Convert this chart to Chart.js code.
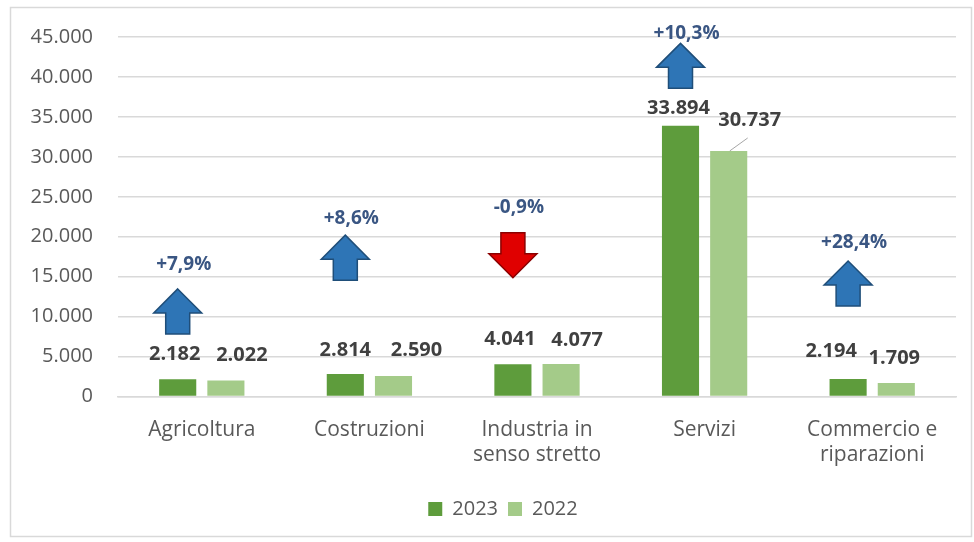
<!DOCTYPE html>
<html>
<head>
<meta charset="utf-8">
<script src="https://cdn.jsdelivr.net/npm/chart.js@4/dist/chart.umd.min.js"></script>
<style>
  html, body { margin: 0; padding: 0; background: #fff; }
  canvas { display: block; }
</style>
</head>
<body>
<canvas id="chart" width="974" height="542"></canvas>
<script>
// Occupati per settore, 2023 vs 2022
const categories = [['Agricoltura'], ['Costruzioni'], ['Industria in', 'senso stretto'], ['Servizi'], ['Commercio e', 'riparazioni']];
const values2023 = [2182, 2814, 4041, 33894, 2194];
const values2022 = [2022, 2590, 4077, 30737, 1709];
const changes = [7.9, 8.6, -0.9, 10.3, 28.4];
const yTicks = [0, 5000, 10000, 15000, 20000, 25000, 30000, 35000, 40000, 45000];

const FONT = "'Open Sans', 'Noto Sans', sans-serif";

function fmtThousands(n) {
  return String(n).replace(/\B(?=(\d{3})+(?!\d))/g, '.');
}
function fmtChange(c) {
  return (c > 0 ? '+' : '') + c.toFixed(1).replace('.', ',') + '%';
}

// white background + light frame around the whole chart;
// legend is centred under the plot area rather than the whole canvas
const frame = {
  id: 'frame',
  afterLayout(chart) {
    const lg = chart.legend;
    if (lg) {
      lg.left += 10;
      lg.right += 10;
    }
  },
  beforeDraw(chart) {
    const ctx = chart.ctx;
    ctx.save();
    ctx.fillStyle = '#fff';
    ctx.fillRect(0, 0, chart.width, chart.height);
    ctx.strokeStyle = '#d9d9d9';
    ctx.lineWidth = 1.5;
    ctx.strokeRect(10.5, 7.5, 961, 529);
    ctx.restore();
  }
};

// value labels over the bars; each one nudged [dx, dy] px from the bar top
const barLabels = {
  id: 'barLabels',
  afterDatasetsDraw(chart, args, opts) {
    const ctx = chart.ctx;
    ctx.save();
    ctx.font = 'bold 20px ' + FONT;
    ctx.fillStyle = '#404040';
    ctx.textAlign = 'center';
    ctx.textBaseline = 'middle';
    chart.data.datasets.forEach((ds, di) => {
      chart.getDatasetMeta(di).data.forEach((bar, i) => {
        const [dx, dy] = opts.shift[di][i];
        const x = bar.x + dx;
        const y = bar.y + dy;
        if (opts.leader[di] === i) {
          ctx.strokeStyle = '#a6a6a6';
          ctx.lineWidth = 1;
          ctx.beginPath();
          ctx.moveTo(bar.x + 1, bar.y);
          ctx.lineTo(x - 2, y + 18);
          ctx.stroke();
        }
        ctx.fillText(fmtThousands(ds.data[i]), x, y);
      });
    });
    ctx.restore();
  }
};

// up / down arrows with the year-on-year change
const changeArrows = {
  id: 'changeArrows',
  afterDatasetsDraw(chart, args, opts) {
    const ctx = chart.ctx;
    const yScale = chart.scales.y;
    const bars = chart.getDatasetMeta(0).data;
    ctx.save();
    changes.forEach((c, i) => {
      const cx = bars[i].x;
      const cy = yScale.getPixelForValue(opts.arrowAt[i]);
      const w = 48, h = 45, head = 24, shaft = 24;
      const up = c >= 0;
      ctx.beginPath();
      if (up) {
        const top = cy - h / 2;
        ctx.moveTo(cx, top);
        ctx.lineTo(cx + w / 2, top + head);
        ctx.lineTo(cx + shaft / 2, top + head);
        ctx.lineTo(cx + shaft / 2, top + h);
        ctx.lineTo(cx - shaft / 2, top + h);
        ctx.lineTo(cx - shaft / 2, top + head);
        ctx.lineTo(cx - w / 2, top + head);
      } else {
        const bot = cy + h / 2;
        ctx.moveTo(cx, bot);
        ctx.lineTo(cx + w / 2, bot - head);
        ctx.lineTo(cx + shaft / 2, bot - head);
        ctx.lineTo(cx + shaft / 2, bot - h);
        ctx.lineTo(cx - shaft / 2, bot - h);
        ctx.lineTo(cx - shaft / 2, bot - head);
        ctx.lineTo(cx - w / 2, bot - head);
      }
      ctx.closePath();
      ctx.fillStyle = up ? '#2e75b6' : '#e00000';
      ctx.fill();
      ctx.strokeStyle = up ? '#1f4e79' : '#8b0000';
      ctx.lineWidth = 1.5;
      ctx.stroke();

      ctx.font = 'bold 19px ' + FONT;
      ctx.fillStyle = '#3a5683';
      ctx.textAlign = 'center';
      ctx.textBaseline = 'middle';
      ctx.fillText(fmtChange(c), cx + 6, yScale.getPixelForValue(opts.labelAt[i]));
    });
    ctx.restore();
  }
};

new Chart(document.getElementById('chart'), {
  type: 'bar',
  data: {
    labels: categories,
    datasets: [
      { label: '2023', data: values2023, backgroundColor: '#5e9c3c' },
      { label: '2022', data: values2022, backgroundColor: '#a4cb89' }
    ]
  },
  options: {
    responsive: false,
    animation: false,
    barPercentage: 0.77,
    categoryPercentage: 0.575,
    layout: { padding: { top: 25, left: 30, right: 18, bottom: 13 } },
    scales: {
      x: {
        grid: { display: false, drawTicks: false },
        border: { color: '#d9d9d9', width: 1.5 },
        ticks: { color: '#595959', font: { family: FONT, size: 21, lineHeight: 1.2 }, padding: 21 }
      },
      y: {
        min: 0,
        max: 45000,
        afterBuildTicks(scale) {
          scale.ticks = yTicks.map(v => ({ value: v }));
        },
        afterFit(scale) {
          scale.width = 88;
        },
        grid: { color: '#d9d9d9', lineWidth: 1.5, drawTicks: false },
        border: { display: false },
        ticks: {
          color: '#595959',
          font: { family: FONT, size: 20 },
          padding: 25,
          callback: v => fmtThousands(v)
        }
      }
    },
    plugins: {
      legend: {
        position: 'bottom',
        labels: {
          color: '#595959',
          font: { family: FONT, size: 20 },
          boxWidth: 14,
          boxHeight: 14,
          padding: 10
        }
      },
      tooltip: { enabled: false },
      barLabels: {
        shift: [
          [[-3, -25], [0, -24], [-3, -25], [-2, -17], [-17, -28]],
          [[16, -25], [23, -26], [16, -24], [21, -31], [-2, -25]]
        ],
        leader: [-1, 3]
      },
      changeArrows: {
        arrowAt: [10660, 17390, 17700, 41390, 14150],
        labelAt: [16580, 22310, 23680, 45370, 19320]
      }
    }
  },
  plugins: [frame, barLabels, changeArrows]
});
</script>
</body>
</html>
